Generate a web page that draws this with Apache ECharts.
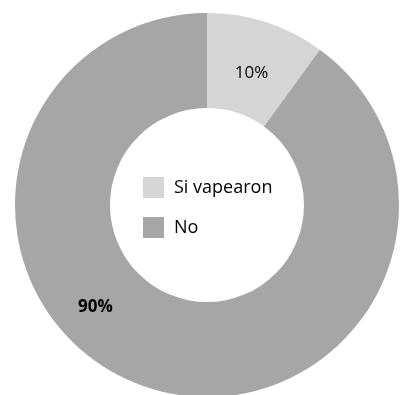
<!DOCTYPE html>
<html>
<head>
<meta charset="utf-8">
<script src="https://cdn.jsdelivr.net/npm/echarts@6/dist/echarts.min.js"></script>
<style>html,body{margin:0;padding:0;background:#fff}#c{width:402px;height:395px}</style>
</head>
<body>
<div id="c"></div>
<script>
var categories = ['Si vapearon', 'No'];
var values = [10, 90];
var labels = ['10%', '90%'];
var colors = ['#d5d5d5', '#a6a6a6'];

var chart = echarts.init(document.getElementById('c'), null, {renderer: 'canvas'});
var font = '"Open Sans", "Liberation Sans", sans-serif';
var data = categories.map(function (c, i) {
  var d = {name: c, value: values[i], itemStyle: {color: colors[i]},
    label: {formatter: labels[i]}};
  if (i === 0) {
    d.label.offset = [-1, 8];
  } else {
    d.label.fontWeight = 'bold';
    d.label.offset = [-66, -38];
  }
  return d;
});
chart.setOption({
  animation: false,
  legend: {
    orient: 'vertical', left: 138, top: 172,
    itemWidth: 21, itemHeight: 21, itemGap: 19, icon: 'rect',
    textStyle: {fontFamily: font, fontSize: 18, color: '#000', padding: [0, 0, 0, 5]},
    data: categories
  },
  series: [{
    type: 'pie',
    center: [207, 205],
    radius: [97, 192],
    startAngle: 90,
    clockwise: true,
    avoidLabelOverlap: false,
    itemStyle: {borderWidth: 0},
    label: {show: true, position: 'inside', fontFamily: font, fontSize: 17, color: '#000'},
    labelLine: {show: false},
    emphasis: {disabled: true},
    data: data
  }]
});
</script>
</body>
</html>
